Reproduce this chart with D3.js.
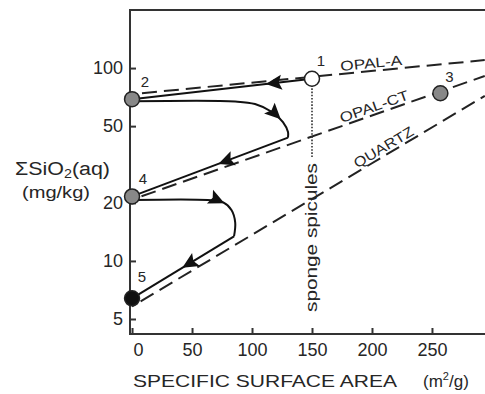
<!DOCTYPE html>
<html>
<head>
<meta charset="utf-8">
<script src="https://cdn.jsdelivr.net/npm/d3@7"></script>
<style>
  body { margin: 0; background: #fff; }
  text { font-family: "Liberation Sans", Arial, sans-serif; fill: #262626; }
</style>
</head>
<body>
<div id="chart"></div>
<script>
// chart values (x: m2/g, y: mg/kg)
var xTicks = [0, 50, 100, 150, 200, 250];
var yTicks = [5, 10, 20, 50, 100];

// dashed solubility lines, [x, y] at both ends
var phaseNames = ["OPAL-A", "OPAL-CT", "QUARTZ"];
var phaseLines = [
  [[0, 73.2], [294, 110]],
  [[0, 20.8], [294, 91]],
  [[0, 5.81], [294, 71.7]]
];
var phaseLabelX = [200, 204, 213];

// numbered samples
var pointIds = ["1", "2", "3", "4", "5"];
var pointX = [150, 0, 257, 0, 0];
var pointY = [88, 69, 74, 21.6, 6.4];
var pointFill = ["#fff", "#888", "#888", "#888", "#111"];

// reaction pathway: curved bits and straight bits
var curveB = [[0, 67.2], [86, 67.1], [102.5, 65.1], [116.7, 59.2], [125.8, 52.5], [130, 46.6], [130, 43.6]];
var curveC = [[0, 20.7], [63, 20.7], [76, 20.1], [83, 18.3], [86, 15.8], [85, 13.4]];
var straightA = [[150, 88], [0, 69]];
var straightB = [[130, 43.6], [0, 21.6]];
var straightC = [[85, 13.4], [0, 6.4]];

// arrow tips (data units)
var arrowTips = [[111, 86.5], [125, 55], [70, 34.5], [77, 19.8], [40, 9.6]];

// dotted sponge spicules marker
var spiculeLine = [[150, 88], [150, 34.6]];

var width = 485, height = 394;
var plotLeft = 130, plotRight = 485, plotTop = 10, plotBottom = 334;

var svg = d3.select("#chart").append("svg")
  .attr("width", width)
  .attr("height", height);

var x = d3.scaleLinear().domain([-1.7, 294.2]).range([plotLeft, plotRight]);
var y = d3.scaleLog().domain([4.18, 200]).range([plotBottom, plotTop]);

var line = d3.line().x(function (d) { return x(d[0]); }).y(function (d) { return y(d[1]); });
var curvy = d3.line().x(function (d) { return x(d[0]); }).y(function (d) { return y(d[1]); })
  .curve(d3.curveCatmullRom.alpha(0.5));

svg.append("clipPath").attr("id", "plot")
  .append("rect").attr("x", plotLeft).attr("y", plotTop)
  .attr("width", plotRight - plotLeft).attr("height", plotBottom - plotTop);

var plot = svg.append("g").attr("clip-path", "url(#plot)");

// dashed lines
plot.selectAll(".phase")
  .data(phaseLines)
  .enter()
  .append("path")
  .attr("class", "phase")
  .attr("d", line)
  .attr("fill", "none")
  .attr("stroke", "#222")
  .attr("stroke-width", 2)
  .attr("stroke-dasharray", "15,7")
  .attr("stroke-dashoffset", -10);

// dotted line
plot.append("path")
  .attr("d", line(spiculeLine))
  .attr("stroke", "#333")
  .attr("stroke-width", 1.6)
  .attr("stroke-dasharray", "1.6,1.6");

// pathway
var routes = [
  line(straightA), curvy(curveB), line(straightB), curvy(curveC), line(straightC)
];
var routePaths = plot.selectAll(".route")
  .data(routes)
  .enter()
  .append("path")
  .attr("class", "route")
  .attr("d", function (d) { return d; })
  .attr("fill", "none")
  .attr("stroke", "#111")
  .attr("stroke-width", 2);

// arrowheads, placed on the nearest route point and turned along it
arrowTips.forEach(function (tip, i) {
  var node = routePaths.nodes()[i];
  var total = node.getTotalLength();
  var tx = x(tip[0]), ty = y(tip[1]);
  var best = 0, bestD = Infinity;
  for (var l = 0; l <= total; l += 0.5) {
    var p = node.getPointAtLength(l);
    var dd = (p.x - tx) * (p.x - tx) + (p.y - ty) * (p.y - ty);
    if (dd < bestD) { bestD = dd; best = l; }
  }
  var a = node.getPointAtLength(best);
  var b = node.getPointAtLength(Math.max(0, best - 4));
  var ang = Math.atan2(a.y - b.y, a.x - b.x) * 180 / Math.PI;
  plot.append("path")
    .attr("d", "M0,0 L-16,-7.5 L-13,0 L-16,7.5 Z")
    .attr("transform", "translate(" + a.x + "," + a.y + ") rotate(" + ang + ")")
    .attr("fill", "#111");
});

// frame and axes
svg.append("path")
  .attr("d", "M" + plotRight + "," + plotTop + "H" + plotLeft + "V" + plotBottom + "H" + plotRight)
  .attr("fill", "none")
  .attr("stroke", "#333")
  .attr("stroke-width", 2);

var xAxis = d3.axisBottom(x).tickValues(xTicks).tickSizeInner(-6).tickSizeOuter(0).tickPadding(9);
var gx = svg.append("g").attr("transform", "translate(0," + plotBottom + ")").call(xAxis);
gx.select(".domain").remove();
gx.selectAll("line").attr("stroke", "#333").attr("stroke-width", 2);
gx.selectAll("text").attr("font-size", 18).attr("fill", "#262626")
  .style("font-family", "'Liberation Sans', Arial, sans-serif")
  .attr("dx", function (d) { return d === 0 ? 6 : 0; });

var yAxis = d3.axisLeft(y).tickValues(yTicks).tickFormat(d3.format("d"))
  .tickSizeInner(-6).tickSizeOuter(0).tickPadding(7);
var gy = svg.append("g").attr("transform", "translate(" + plotLeft + ",0)").call(yAxis);
gy.select(".domain").remove();
gy.selectAll("line").attr("stroke", "#333").attr("stroke-width", 2);
gy.selectAll("text").attr("font-size", 18).attr("fill", "#262626")
  .style("font-family", "'Liberation Sans', Arial, sans-serif");

// points
svg.selectAll(".pt")
  .data(pointIds)
  .enter()
  .append("circle")
  .attr("class", "pt")
  .attr("cx", function (d, i) { return x(pointX[i]); })
  .attr("cy", function (d, i) { return y(pointY[i]); })
  .attr("r", 7.5)
  .attr("fill", function (d, i) { return pointFill[i]; })
  .attr("stroke", "#222")
  .attr("stroke-width", 1.5);

var idOffset = [[9, -13], [13, -12], [9, -11], [11, -12], [10, -16]];
svg.selectAll(".pid")
  .data(pointIds)
  .enter()
  .append("text")
  .attr("class", "pid")
  .attr("x", function (d, i) { return x(pointX[i]) + idOffset[i][0]; })
  .attr("y", function (d, i) { return y(pointY[i]) + idOffset[i][1]; })
  .attr("text-anchor", "middle")
  .attr("font-size", 15)
  .text(function (d) { return d; });

// labels along the dashed lines
var labelLen = [62, 72, 67];
phaseNames.forEach(function (name, i) {
  var p0 = phaseLines[i][0], p1 = phaseLines[i][1];
  var ang = Math.atan2(y(p1[1]) - y(p0[1]), x(p1[0]) - x(p0[0])) * 180 / Math.PI;
  var t = (phaseLabelX[i] - p0[0]) / (p1[0] - p0[0]);
  var ly = Math.exp(Math.log(p0[1]) + t * (Math.log(p1[1]) - Math.log(p0[1])));
  svg.append("text")
    .attr("transform", "translate(" + x(phaseLabelX[i]) + "," + y(ly) + ") rotate(" + ang + ")")
    .attr("y", -3)
    .attr("text-anchor", "middle")
    .attr("font-size", 14)
    .attr("textLength", labelLen[i])
    .attr("lengthAdjust", "spacingAndGlyphs")
    .text(name);
});

// sponge spicules
svg.append("text")
  .attr("transform", "translate(" + (x(150) + 5) + ",312) rotate(-90)")
  .attr("font-size", 17)
  .attr("textLength", 149)
  .attr("lengthAdjust", "spacingAndGlyphs")
  .text("sponge spicules");

// axis titles
svg.append("text")
  .attr("x", 133)
  .attr("y", 387)
  .attr("font-size", 17)
  .attr("textLength", 264)
  .attr("lengthAdjust", "spacingAndGlyphs")
  .text("SPECIFIC SURFACE AREA");

var unit = svg.append("text").attr("x", 423).attr("y", 387).attr("font-size", 17);
unit.append("tspan").text("(m");
unit.append("tspan").attr("font-size", 11).attr("dy", -7).text("2");
unit.append("tspan").attr("dy", 7).text("/g)");

var yl = svg.append("text").attr("x", 15).attr("y", 175).attr("font-size", 18)
  .attr("textLength", 95).attr("lengthAdjust", "spacingAndGlyphs");
yl.append("tspan").text("\u03A3SiO");
yl.append("tspan").attr("font-size", 12).attr("dy", 3).text("2");
yl.append("tspan").attr("dy", -3).text("(aq)");

svg.append("text")
  .attr("x", 22)
  .attr("y", 198)
  .attr("font-size", 17)
  .attr("textLength", 68)
  .attr("lengthAdjust", "spacingAndGlyphs")
  .text("(mg/kg)");
</script>
</body>
</html>
